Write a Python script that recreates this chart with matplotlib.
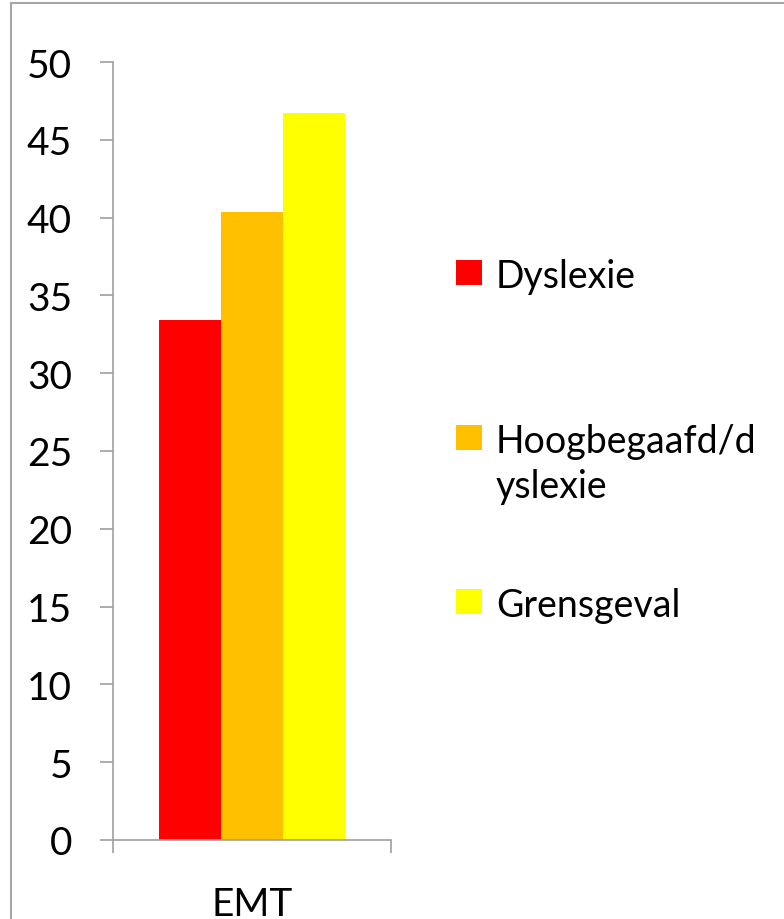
import matplotlib.pyplot as plt
from matplotlib.patches import Rectangle
from matplotlib.lines import Line2D

# Data
categories = ['EMT']
series = ['Dyslexie', 'Hoogbegaafd/d\nyslexie', 'Grensgeval']
values = [33.4, 40.35, 46.7]
colors = ['#FF0000', '#FFC000', '#FFFF00']
yticks = [0, 5, 10, 15, 20, 25, 30, 35, 40, 45, 50]

W, H = 784, 920
plt.rcParams['font.family'] = ['Lato', 'DejaVu Sans']
fig = plt.figure(figsize=(W / 100, H / 100), dpi=100)

# axes box in pixels: left 113, right 391, top 63, bottom 841
ax = fig.add_axes([113 / W, (H - 841) / H, (391 - 113) / W, (841 - 63) / H])

bar_w = 0.223
offsets = [-bar_w, 0, bar_w]
for name, val, col, off in zip(series, values, colors, offsets):
    ax.bar(0 + off, val, width=bar_w, color=col, label=name)

ax.set_xlim(-0.5, 0.5)
ax.set_ylim(0, 50)
ax.set_yticks(yticks)
ax.set_yticklabels([str(t) for t in yticks], fontsize=28)

# category boundaries as major ticks, label as minor
ax.set_xticks([-0.5, 0.5])
ax.set_xticklabels(['', ''])
ax.set_xticks([0], minor=True)
ax.set_xticklabels(categories, minor=True, fontsize=28)

axis_gray = '#A0A0A0'
for s in ['top', 'right']:
    ax.spines[s].set_visible(False)
for s in ['left', 'bottom']:
    ax.spines[s].set_color(axis_gray)
    ax.spines[s].set_linewidth(1.2)
ax.tick_params(axis='y', which='major', length=9.5, width=1.2, color=axis_gray, pad=20)
ax.tick_params(axis='x', which='major', length=9.5, width=1.2, color=axis_gray)
ax.tick_params(axis='x', which='minor', length=0, pad=33)

# legend drawn by hand (entries spaced like the original)
def fx(px):
    return px / W

def fy(py):
    return 1 - py / H

leg_baselines = [288, 453, 617]
line_gap = 45
for name, col, base in zip(series, colors, leg_baselines):
    fig.patches.append(Rectangle((fx(456), fy(base - 2)), 26 / W, 25 / H,
                                 transform=fig.transFigure, facecolor=col,
                                 edgecolor='none'))
    for i, part in enumerate(name.split('\n')):
        fig.text(fx(496), fy(base + i * line_gap), part, fontsize=27,
                 va='baseline', ha='left')

# outer border (left and top visible)
border = '#A6A6A6'
fig.add_artist(Line2D([fx(11), fx(11)], [0, fy(4)], transform=fig.transFigure,
                      color=border, lw=1.5))
fig.add_artist(Line2D([fx(11), 1], [fy(4), fy(4)], transform=fig.transFigure,
                      color=border, lw=1.5))

plt.savefig('out.png', dpi=100)
